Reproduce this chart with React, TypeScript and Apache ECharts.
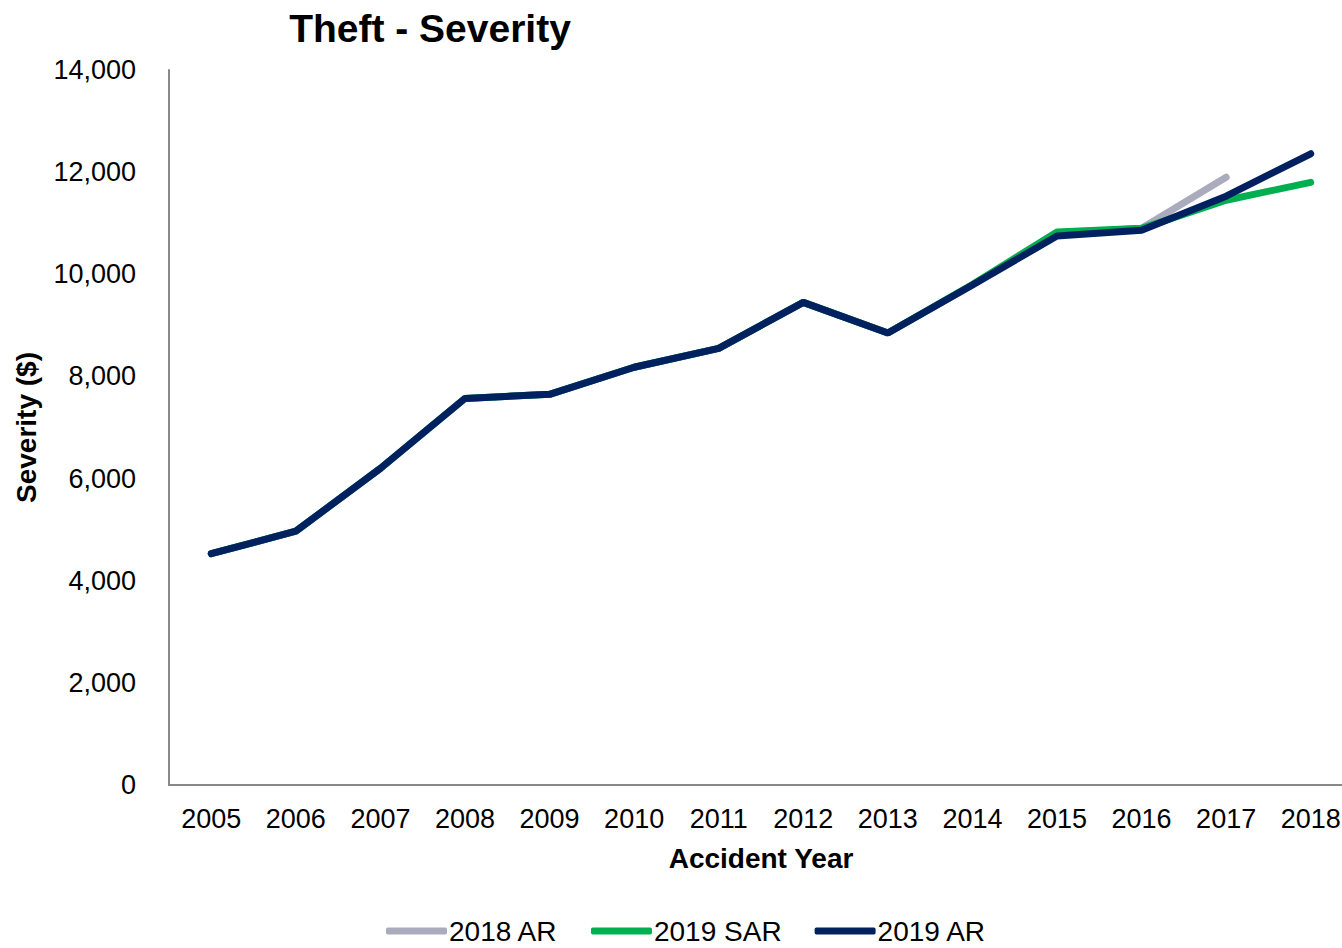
import React, { useEffect, useRef } from "react";
import * as echarts from "echarts";

const years = ["2005","2006","2007","2008","2009","2010","2011","2012","2013","2014","2015","2016","2017","2018"];
const ar2018 = [4530, 4970, 6200, 7570, 7650, 8180, 8550, 9450, 8850, 9790, 10800, 10900, 11900];
const sar2019 = [4530, 4970, 6200, 7570, 7650, 8180, 8550, 9450, 8850, 9800, 10830, 10900, 11450, 11800];
const ar2019 = [4530, 4970, 6200, 7570, 7650, 8180, 8550, 9450, 8850, 9790, 10750, 10860, 11530, 12360];
const yTicks = { min: 0, max: 14000, interval: 2000 };

export default function App() {
  const ref = useRef<HTMLDivElement>(null);
  useEffect(() => {
    if (!ref.current) return;
    const chart = echarts.init(ref.current, undefined, { renderer: "svg" });
    const font = "Liberation Sans, Arial, sans-serif";
    const mk = (name: string, data: number[], color: string) => ({
      name,
      type: "line",
      data,
      showSymbol: false,
      symbol: "none",
      lineStyle: { color, width: 7, cap: "round" },
      itemStyle: { color },
    });
    chart.setOption({
      animation: false,
      textStyle: { fontFamily: font },
      title: {
        text: "Theft - Severity",
        left: 425,
        textAlign: "center",
        top: 4,
        textStyle: { fontFamily: font, fontSize: 39, fontWeight: "bold", color: "#000" },
      },
      grid: {
        left: 169,
        right: -11,
        top: 70,
        bottom: 163,
        containLabel: false,
        outerBoundsMode: "none",
      },
      xAxis: {
        type: "category",
        data: years,
        boundaryGap: true,
        name: "Accident Year",
        nameLocation: "middle",
        nameGap: 59,
        nameTextStyle: { fontFamily: font, fontSize: 28, fontWeight: "bold", color: "#000" },
        axisLine: { lineStyle: { color: "#888888", width: 2 } },
        axisTick: { show: false },
        axisLabel: { fontFamily: font, fontSize: 27, color: "#000", margin: 20, interval: 0 },
        splitLine: { show: false },
      },
      yAxis: {
        type: "value",
        min: yTicks.min,
        max: yTicks.max,
        interval: yTicks.interval,
        name: "Severity ($)",
        nameLocation: "middle",
        nameGap: 129,
        nameTextStyle: { fontFamily: font, fontSize: 28, fontWeight: "bold", color: "#000" },
        axisLine: { show: true, lineStyle: { color: "#888888", width: 2 } },
        axisTick: { show: false },
        splitLine: { show: false },
        axisLabel: {
          fontFamily: font,
          fontSize: 27,
          color: "#000",
          margin: 33,
          formatter: (v: number) => v.toLocaleString("en-US"),
        },
      },
      legend: {
        bottom: -2,
        left: 381,
        itemWidth: 61,
        itemHeight: 7,
        itemGap: 33,
        icon: "roundRect",
        textStyle: { fontFamily: font, fontSize: 28, color: "#000", padding: [0, 0, 0, -3] },
        data: ["2018 AR", "2019 SAR", "2019 AR"],
      },
      series: [
        mk("2018 AR", ar2018, "#AAABBC"),
        mk("2019 SAR", sar2019, "#00B050"),
        mk("2019 AR", ar2019, "#002060"),
      ],
    });
    return () => chart.dispose();
  }, []);
  return <div ref={ref} style={{ position: "absolute", left: 0, top: 0, width: 1342, height: 948 }} />;
}
